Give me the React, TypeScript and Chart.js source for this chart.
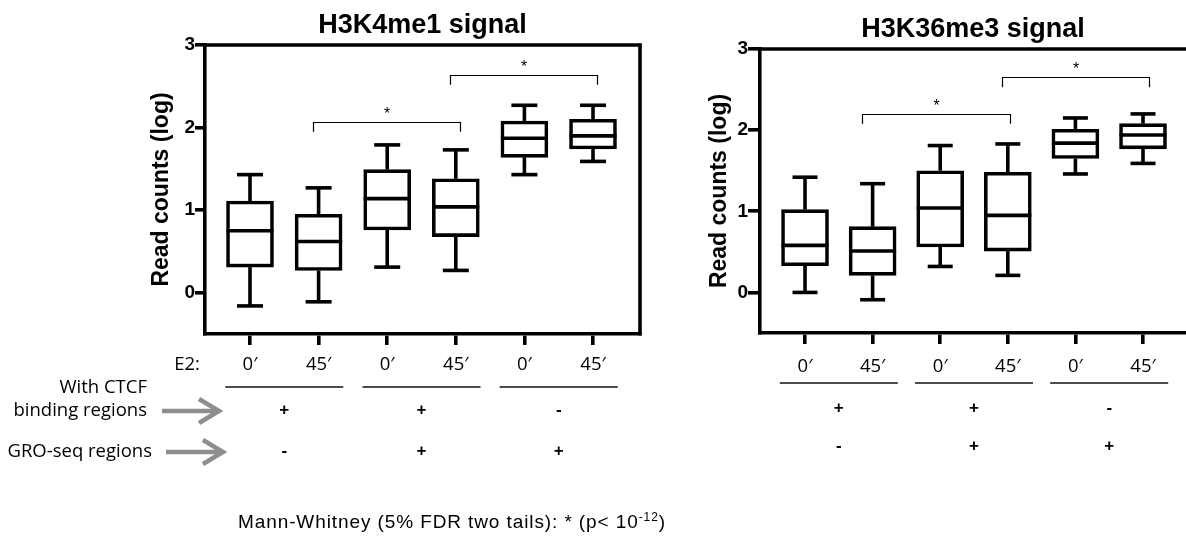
import React, { useEffect, useRef } from 'react';
import { Chart, registerables } from 'chart.js';

Chart.register(...registerables);

// ---------- data ----------
const categories = ['0′', '45′', '0′', '45′', '0′', '45′'];
const ctcfMarks = ['+', '+', '-'];
const groMarks = ['-', '+', '+'];
const yTicks = [0, 1, 2, 3];

// H3K4me1
const k4Min = [-0.16, -0.11, 0.31, 0.27, 1.43, 1.59];
const k4Q1 = [0.31, 0.27, 0.76, 0.68, 1.64, 1.74];
const k4Med = [0.75, 0.62, 1.14, 1.04, 1.87, 1.9];
const k4Q3 = [1.11, 0.95, 1.49, 1.38, 2.08, 2.1];
const k4Max = [1.43, 1.27, 1.79, 1.73, 2.27, 2.27];
const k4BracketFrom = [1.92, 3.92];
const k4BracketTo = [4.06, 6.06];
const k4BracketTop = [2.07, 2.64];
const k4BracketEnd = [1.95, 2.52];

// H3K36me3
const k36Min = [0.0, -0.09, 0.32, 0.21, 1.46, 1.59];
const k36Q1 = [0.33, 0.21, 0.56, 0.51, 1.65, 1.77];
const k36Med = [0.58, 0.51, 1.04, 0.95, 1.84, 1.94];
const k36Q3 = [1.02, 0.81, 1.5, 1.48, 2.01, 2.08];
const k36Max = [1.42, 1.34, 1.81, 1.83, 2.15, 2.2];
const k36BracketFrom = [1.84, 3.91];
const k36BracketTo = [4.03, 6.09];
const k36BracketTop = [2.2, 2.66];
const k36BracketEnd = [2.08, 2.53];

// ---------- layout ----------
interface Panel {
  title: string;
  min: number[]; q1: number[]; med: number[]; q3: number[]; max: number[];
  bFrom: number[]; bTo: number[]; bTop: number[]; bEnd: number[];
  left: number; width: number; padLeft: number; padRight: number;
  top: number; bottom: number; yWidth: number; xMin: number; xMax: number;
  yTickLen: number; xLabelPad: number; rightBorder: boolean; leftLabels: boolean;
  titleBase: number; uOff: number; r1Off: number; r2Off: number;
  boxW: number; capW: number;
}

const H = 537;
const XH = 40;
const LW = 3.6;

const panels: Panel[] = [
  {
    title: 'H3K4me1 signal',
    min: k4Min, q1: k4Q1, med: k4Med, q3: k4Q3, max: k4Max,
    bFrom: k4BracketFrom, bTo: k4BracketTo, bTop: k4BracketTop, bEnd: k4BracketEnd,
    left: 0, width: 680, padLeft: 140, padRight: 40, top: 45, bottom: 334, yWidth: 65,
    xMin: 0.344, xMax: 6.685, yTickLen: 10, xLabelPad: 9, rightBorder: true, leftLabels: true,
    titleBase: 33, uOff: 53, r1Off: 76, r2Off: 117, boxW: 47, capW: 26,
  },
  {
    title: 'H3K36me3 signal',
    min: k36Min, q1: k36Q1, med: k36Med, q3: k36Q3, max: k36Max,
    bFrom: k36BracketFrom, bTo: k36BracketTo, bTop: k36BracketTop, bEnd: k36BracketEnd,
    left: 680, width: 506, padLeft: 18, padRight: 0, top: 49, bottom: 333, yWidth: 62,
    xMin: 0.334, xMax: 6.636, yTickLen: 12, xLabelPad: 12, rightBorder: false, leftLabels: false,
    titleBase: 37, uOff: 50, r1Off: 75, r2Off: 113, boxW: 47, capW: 25,
  },
];

const SANS = '"Liberation Sans", Arial, sans-serif';
const CAL = '"Open Sans", Lato, sans-serif';

function line(ctx: CanvasRenderingContext2D, x1: number, y1: number, x2: number, y2: number) {
  ctx.beginPath();
  ctx.moveTo(x1, y1);
  ctx.lineTo(x2, y2);
  ctx.stroke();
}

function makePlugin(p: Panel) {
  return {
    id: 'boxExtras',
    afterDatasetsDraw(chart: any) {
      const ctx: CanvasRenderingContext2D = chart.ctx;
      const xs = chart.scales.x;
      const ys = chart.scales.y;
      ctx.save();
      ctx.strokeStyle = '#000';
      ctx.lineWidth = LW;
      ctx.lineCap = 'butt';
      for (let i = 0; i < categories.length; i++) {
        const x = xs.getPixelForValue(i + 1);
        const pMin = ys.getPixelForValue(p.min[i]);
        const pQ1 = ys.getPixelForValue(p.q1[i]);
        const pMed = ys.getPixelForValue(p.med[i]);
        const pQ3 = ys.getPixelForValue(p.q3[i]);
        const pMax = ys.getPixelForValue(p.max[i]);
        line(ctx, x, pQ3, x, pMax);
        line(ctx, x, pQ1, x, pMin);
        line(ctx, x - p.capW / 2, pMax, x + p.capW / 2, pMax);
        line(ctx, x - p.capW / 2, pMin, x + p.capW / 2, pMin);
        line(ctx, x - p.boxW / 2, pMed, x + p.boxW / 2, pMed);
      }
      // significance brackets
      ctx.lineWidth = 1.2;
      ctx.fillStyle = '#000';
      ctx.font = `16px ${SANS}`;
      ctx.textAlign = 'center';
      ctx.textBaseline = 'middle';
      for (let b = 0; b < p.bFrom.length; b++) {
        const x1 = Math.round(xs.getPixelForValue(p.bFrom[b])) + 0.5;
        const x2 = Math.round(xs.getPixelForValue(p.bTo[b])) + 0.5;
        const yt = Math.round(ys.getPixelForValue(p.bTop[b])) + 0.5;
        const ye = ys.getPixelForValue(p.bEnd[b]);
        ctx.beginPath();
        ctx.moveTo(x1, ye);
        ctx.lineTo(x1, yt);
        ctx.lineTo(x2, yt);
        ctx.lineTo(x2, ye);
        ctx.stroke();
        ctx.fillText('*', (x1 + x2) / 2, yt - 8);
      }
      ctx.restore();
    },
    afterDraw(chart: any) {
      const ctx: CanvasRenderingContext2D = chart.ctx;
      const xs = chart.scales.x;
      const ca = chart.chartArea;
      ctx.save();
      ctx.strokeStyle = '#000';
      ctx.lineWidth = LW;
      line(ctx, ca.left - 1.5, ca.top, ca.right + 1.5, ca.top);
      if (p.rightBorder) line(ctx, ca.right, ca.top - 1.5, ca.right, ca.bottom + 1.5);

      // title
      ctx.fillStyle = '#000';
      ctx.font = `bold 27px ${SANS}`;
      ctx.textAlign = 'center';
      ctx.textBaseline = 'alphabetic';
      ctx.fillText(p.title, (ca.left + ca.right) / 2, p.titleBase);

      const bottom = ca.bottom;
      // group underlines
      ctx.lineWidth = 1.5;
      ctx.strokeStyle = '#111';
      for (let g = 0; g < 3; g++) {
        const cx = xs.getPixelForValue(2 * g + 1.5);
        line(ctx, cx - 59, bottom + p.uOff, cx + 59, bottom + p.uOff);
      }
      // + / - rows
      ctx.font = `bold 17px ${SANS}`;
      ctx.textBaseline = 'middle';
      for (let g = 0; g < 3; g++) {
        const cx = xs.getPixelForValue(2 * g + 1.5);
        ctx.fillText(ctcfMarks[g], cx, bottom + p.r1Off);
        ctx.fillText(groMarks[g], cx, bottom + p.r2Off);
      }

      if (p.leftLabels) {
        ctx.font = `18.5px ${CAL}`;
        ctx.textAlign = 'center';
        ctx.fillText('E2:', ca.left - 18, bottom + 31);
        ctx.textAlign = 'right';
        ctx.fillText('With CTCF', 147, bottom + 54);
        ctx.fillText('binding regions', 147, bottom + 77);
        ctx.fillText('GRO-seq regions', 152, bottom + 118);
        // arrows
        ctx.strokeStyle = '#8e8e8e';
        ctx.lineWidth = 4.5;
        ctx.lineJoin = 'miter';
        const arrows = [
          { x1: 162, x2: 219, y: bottom + 77 },
          { x1: 166, x2: 223, y: bottom + 118 },
        ];
        for (const a of arrows) {
          line(ctx, a.x1, a.y, a.x2 - 2, a.y);
          ctx.beginPath();
          ctx.moveTo(a.x2 - 20, a.y - 12);
          ctx.lineTo(a.x2, a.y);
          ctx.lineTo(a.x2 - 20, a.y + 12);
          ctx.stroke();
        }
      }
      ctx.restore();
    },
  };
}

function PanelChart({ p }: { p: Panel }) {
  const ref = useRef<HTMLCanvasElement>(null);
  useEffect(() => {
    const canvas = ref.current;
    if (!canvas) return;
    const chart = new Chart(canvas, {
      type: 'bar',
      data: {
        datasets: [
          {
            data: categories.map((_, i) => ({ x: i + 1, y: [p.q1[i], p.q3[i]] })) as any,
            backgroundColor: '#fff',
            borderColor: '#000',
            borderWidth: LW,
            borderSkipped: false,
            barThickness: p.boxW,
          } as any,
        ],
      },
      options: {
        animation: false,
        responsive: false,
        devicePixelRatio: 1,
        layout: {
          padding: { left: p.padLeft, right: p.padRight, top: p.top, bottom: H - p.bottom - XH },
        },
        plugins: {
          legend: { display: false },
          tooltip: { enabled: false },
          title: { display: false },
        },
        scales: {
          x: {
            type: 'linear',
            min: p.xMin,
            max: p.xMax,
            offset: false,
            afterBuildTicks: (s: any) => {
              s.ticks = categories.map((_, i) => ({ value: i + 1 }));
            },
            afterFit: (s: any) => {
              s.height = XH;
            },
            grid: {
              offset: false,
              drawOnChartArea: false,
              drawTicks: true,
              tickLength: 11,
              lineWidth: LW,
              color: '#000',
            },
            border: { display: true, width: LW, color: '#000' },
            ticks: {
              autoSkip: false,
              maxRotation: 0,
              padding: p.xLabelPad,
              color: '#000',
              font: { family: CAL, size: 18.5 },
              callback: (v: any) => categories[Math.round(Number(v)) - 1] ?? '',
            },
          },
          y: {
            type: 'linear',
            min: -0.5,
            max: 3,
            afterBuildTicks: (s: any) => {
              s.ticks = yTicks.map((v) => ({ value: v }));
            },
            afterFit: (s: any) => {
              s.width = p.yWidth;
            },
            grid: {
              drawOnChartArea: false,
              drawTicks: true,
              tickLength: p.yTickLen,
              lineWidth: LW,
              color: '#000',
            },
            border: { display: true, width: LW, color: '#000' },
            ticks: {
              padding: 0,
              color: '#000',
              font: { family: SANS, size: 19, weight: 'bold' },
            },
            title: {
              display: true,
              text: 'Read counts (log)',
              color: '#000',
              font: { family: SANS, size: 23, weight: 'bold' },
              padding: { top: 8, bottom: 0 },
            },
          },
        },
      } as any,
      plugins: [makePlugin(p)],
    });
    return () => chart.destroy();
  }, [p]);
  return (
    <canvas
      ref={ref}
      width={p.width}
      height={H}
      style={{ position: 'absolute', left: p.left, top: 0, width: p.width, height: H }}
    />
  );
}

export default function App() {
  return (
    <div
      style={{
        position: 'fixed',
        left: 0,
        top: 0,
        width: 1186,
        height: H,
        background: '#fff',
        overflow: 'hidden',
      }}
    >
      {panels.map((p, i) => (
        <PanelChart key={i} p={p} />
      ))}
      <div
        style={{
          position: 'absolute',
          left: 238,
          top: 511,
          whiteSpace: 'nowrap',
          fontFamily: SANS,
          fontSize: 19,
          lineHeight: '22px',
          letterSpacing: 0.9,
          color: '#000',
        }}
      >
        Mann-Whitney (5% FDR two tails): * (p&lt; 10
        <span style={{ fontSize: 12, position: 'relative', top: -7 }}>-12</span>)
      </div>
    </div>
  );
}
